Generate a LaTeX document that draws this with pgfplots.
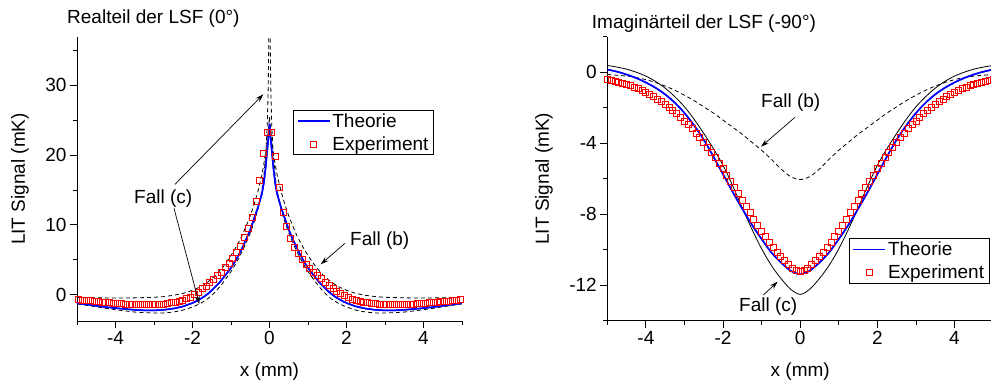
\documentclass[border=0pt]{standalone}
\usepackage{fontspec}
\setmainfont{Liberation Sans}
\usepackage{pgfplots}
\usepackage{pgfplotstable}
\pgfplotsset{compat=1.18}
\usetikzlibrary{arrows.meta}

\pgfplotstableread{
x y
-5.00 -1.25
-4.75 -1.43
-4.50 -1.62
-4.25 -1.80
-4.00 -1.95
-3.75 -2.08
-3.50 -2.20
-3.25 -2.27
-3.00 -2.28
-2.75 -2.20
-2.50 -2.02
-2.25 -1.72
-2.00 -1.22
-1.90 -0.95
-1.80 -0.65
-1.70 -0.30
-1.60 0.10
-1.50 0.60
-1.40 1.15
-1.30 1.70
-1.20 2.40
-1.10 3.10
-1.00 3.80
-0.90 4.70
-0.80 5.70
-0.70 6.80
-0.60 8.00
-0.50 9.30
-0.40 10.90
-0.30 12.50
-0.20 14.40
-0.15 15.90
-0.10 18.20
-0.05 21.20
-0.02 23.00
0.00 24.50
0.02 23.00
0.05 21.20
0.10 18.20
0.15 15.90
0.20 14.40
0.30 12.50
0.40 10.90
0.50 9.30
0.60 8.00
0.70 6.80
0.80 5.70
0.90 4.70
1.00 3.80
1.10 3.10
1.20 2.40
1.30 1.70
1.40 1.15
1.50 0.60
1.60 0.10
1.70 -0.30
1.80 -0.65
1.90 -0.95
2.00 -1.22
2.25 -1.72
2.50 -2.02
2.75 -2.20
3.00 -2.28
3.25 -2.27
3.50 -2.20
3.75 -2.08
4.00 -1.95
4.25 -1.80
4.50 -1.62
4.75 -1.43
5.00 -1.25
}\leftTheo

\pgfplotstableread{
x y
-4.95 -0.77
-4.85 -0.82
-4.75 -0.87
-4.65 -0.92
-4.55 -0.97
-4.45 -1.02
-4.35 -1.07
-4.25 -1.12
-4.15 -1.17
-4.05 -1.22
-3.95 -1.27
-3.85 -1.32
-3.75 -1.36
-3.65 -1.40
-3.55 -1.43
-3.45 -1.46
-3.35 -1.48
-3.25 -1.49
-3.15 -1.49
-3.05 -1.48
-2.95 -1.46
-2.85 -1.42
-2.75 -1.37
-2.65 -1.30
-2.55 -1.20
-2.45 -1.10
-2.35 -0.95
-2.25 -0.80
-2.15 -0.60
-2.05 -0.35
-1.95 -0.05
-1.85 0.35
-1.75 0.80
-1.65 1.20
-1.55 1.70
-1.45 2.20
-1.35 2.70
-1.25 3.20
-1.15 3.85
-1.05 4.50
-0.95 5.20
-0.85 6.00
-0.75 6.95
-0.65 8.20
-0.55 9.50
-0.45 11.10
-0.35 13.30
-0.25 16.30
-0.15 20.30
-0.05 23.20
0.05 23.20
0.15 19.80
0.25 15.30
0.35 11.80
0.45 9.70
0.55 8.00
0.65 6.80
0.75 5.90
0.85 5.00
0.95 4.30
1.05 3.70
1.15 3.15
1.25 2.70
1.35 2.25
1.45 1.75
1.55 1.25
1.65 0.85
1.75 0.45
1.85 0.10
1.95 -0.20
2.05 -0.45
2.15 -0.65
2.25 -0.85
2.35 -1.00
2.45 -1.10
2.55 -1.20
2.65 -1.28
2.75 -1.34
2.85 -1.39
2.95 -1.42
3.05 -1.44
3.15 -1.45
3.25 -1.46
3.35 -1.46
3.45 -1.45
3.55 -1.44
3.65 -1.42
3.75 -1.39
3.85 -1.35
3.95 -1.30
4.05 -1.25
4.15 -1.20
4.25 -1.15
4.35 -1.10
4.45 -1.04
4.55 -0.98
4.65 -0.93
4.75 -0.87
4.85 -0.82
4.95 -0.77
}\leftExp

\pgfplotstableread{
x y
-5.00 -1.35
-4.50 -1.76
-4.00 -2.18
-3.50 -2.52
-3.00 -2.66
-2.75 -2.64
-2.50 -2.52
-2.25 -2.25
-2.00 -1.80
-1.80 -1.30
-1.60 -0.60
-1.40 0.40
-1.20 1.75
-1.00 3.30
-0.90 4.20
-0.80 5.20
-0.70 6.30
-0.60 7.50
-0.50 8.80
-0.40 10.40
-0.30 12.20
-0.20 14.80
-0.15 16.80
-0.10 20.00
-0.08 21.80
-0.06 24.20
-0.04 28.00
-0.03 31.00
-0.02 36.00
-0.01 42.00
0.00 48.00
0.01 42.00
0.02 36.00
0.03 31.00
0.04 28.00
0.06 24.20
0.08 21.80
0.10 20.00
0.15 16.80
0.20 14.80
0.30 12.20
0.40 10.40
0.50 8.80
0.60 7.50
0.70 6.30
0.80 5.20
0.90 4.20
1.00 3.30
1.20 1.75
1.40 0.40
1.60 -0.60
1.80 -1.30
2.00 -1.80
2.25 -2.25
2.50 -2.52
2.75 -2.64
3.00 -2.66
3.50 -2.52
4.00 -2.18
4.50 -1.76
5.00 -1.35
}\leftFallC

\pgfplotstableread{
x y
-5.00 -0.43
-4.50 -0.47
-4.00 -0.50
-3.50 -0.48
-3.00 -0.40
-2.75 -0.30
-2.50 -0.12
-2.25 0.15
-2.00 0.60
-1.80 1.10
-1.60 1.80
-1.40 2.75
-1.20 4.00
-1.00 5.60
-0.90 6.50
-0.80 7.50
-0.70 8.60
-0.60 9.90
-0.50 11.30
-0.40 12.90
-0.30 14.80
-0.20 17.10
-0.15 18.60
-0.10 20.40
-0.05 22.60
-0.02 24.20
0.00 25.50
0.02 24.20
0.05 22.60
0.10 20.40
0.15 18.60
0.20 17.10
0.30 14.80
0.40 12.90
0.50 11.30
0.60 9.90
0.70 8.60
0.80 7.50
0.90 6.50
1.00 5.60
1.20 4.00
1.40 2.75
1.60 1.80
1.80 1.10
2.00 0.60
2.25 0.15
2.50 -0.12
2.75 -0.30
3.00 -0.40
3.50 -0.48
4.00 -0.50
4.50 -0.47
5.00 -0.43
}\leftFallB

\pgfplotstableread{
x y
-5.00 0.15
-4.75 0.03
-4.50 -0.13
-4.25 -0.33
-4.00 -0.58
-3.75 -0.88
-3.50 -1.25
-3.25 -1.72
-3.00 -2.30
-2.75 -3.00
-2.50 -3.80
-2.25 -4.75
-2.00 -5.75
-1.75 -6.75
-1.50 -7.70
-1.25 -8.60
-1.00 -9.40
-0.75 -10.15
-0.50 -10.72
-0.25 -11.18
0.00 -11.38
0.25 -11.18
0.50 -10.72
0.75 -10.15
1.00 -9.40
1.25 -8.60
1.50 -7.70
1.75 -6.75
2.00 -5.75
2.25 -4.75
2.50 -3.80
2.75 -3.00
3.00 -2.30
3.25 -1.72
3.50 -1.25
3.75 -0.88
4.00 -0.58
4.25 -0.33
4.50 -0.13
4.75 0.03
5.00 0.15
}\rightTheo

\pgfplotstableread{
x y
-5.0 -0.43
-4.9 -0.47
-4.8 -0.52
-4.7 -0.58
-4.6 -0.64
-4.5 -0.70
-4.4 -0.77
-4.3 -0.84
-4.2 -0.93
-4.1 -1.02
-4.0 -1.12
-3.9 -1.25
-3.8 -1.38
-3.7 -1.52
-3.6 -1.66
-3.5 -1.80
-3.4 -1.98
-3.3 -2.16
-3.2 -2.35
-3.1 -2.55
-3.0 -2.75
-2.9 -2.96
-2.8 -3.19
-2.7 -3.43
-2.6 -3.69
-2.5 -3.95
-2.4 -4.22
-2.3 -4.50
-2.2 -4.81
-2.1 -5.13
-2.0 -5.45
-1.9 -5.79
-1.8 -6.13
-1.7 -6.48
-1.6 -6.84
-1.5 -7.20
-1.4 -7.56
-1.3 -7.92
-1.2 -8.27
-1.1 -8.61
-1.0 -8.95
-0.9 -9.28
-0.8 -9.60
-0.7 -9.88
-0.6 -10.15
-0.5 -10.40
-0.4 -10.63
-0.3 -10.85
-0.2 -11.03
-0.1 -11.16
0.0 -11.20
0.1 -11.16
0.2 -11.03
0.3 -10.85
0.4 -10.63
0.5 -10.40
0.6 -10.15
0.7 -9.88
0.8 -9.60
0.9 -9.28
1.0 -8.95
1.1 -8.61
1.2 -8.27
1.3 -7.92
1.4 -7.56
1.5 -7.20
1.6 -6.84
1.7 -6.48
1.8 -6.13
1.9 -5.79
2.0 -5.45
2.1 -5.13
2.2 -4.81
2.3 -4.50
2.4 -4.22
2.5 -3.95
2.6 -3.69
2.7 -3.43
2.8 -3.19
2.9 -2.96
3.0 -2.75
3.1 -2.55
3.2 -2.35
3.3 -2.16
3.4 -1.98
3.5 -1.80
3.6 -1.66
3.7 -1.52
3.8 -1.38
3.9 -1.25
4.0 -1.12
4.1 -1.02
4.2 -0.93
4.3 -0.84
4.4 -0.77
4.5 -0.70
4.6 -0.64
4.7 -0.58
4.8 -0.52
4.9 -0.47
5.0 -0.43
}\rightExp

\pgfplotstableread{
x y
-5.00 0.38
-4.75 0.29
-4.50 0.17
-4.25 0.00
-4.00 -0.22
-3.75 -0.52
-3.50 -0.90
-3.25 -1.38
-3.00 -1.95
-2.75 -2.65
-2.50 -3.45
-2.25 -4.30
-2.00 -5.25
-1.75 -6.40
-1.50 -7.65
-1.25 -8.85
-1.00 -9.95
-0.75 -10.88
-0.50 -11.62
-0.25 -12.22
0.00 -12.52
0.25 -12.22
0.50 -11.62
0.75 -10.88
1.00 -9.95
1.25 -8.85
1.50 -7.65
1.75 -6.40
2.00 -5.25
2.25 -4.30
2.50 -3.45
2.75 -2.65
3.00 -1.95
3.25 -1.38
3.50 -0.90
3.75 -0.52
4.00 -0.22
4.25 0.00
4.50 0.17
4.75 0.29
5.00 0.38
}\rightFallC

\pgfplotstableread{
x y
-5.00 -0.13
-4.75 -0.17
-4.50 -0.22
-4.25 -0.30
-4.00 -0.42
-3.75 -0.58
-3.50 -0.78
-3.25 -1.02
-3.00 -1.30
-2.75 -1.60
-2.50 -1.95
-2.25 -2.30
-2.00 -2.70
-1.75 -3.10
-1.50 -3.50
-1.25 -3.95
-1.00 -4.40
-0.75 -4.90
-0.50 -5.45
-0.25 -5.88
0.00 -6.05
0.25 -5.88
0.50 -5.45
0.75 -4.90
1.00 -4.40
1.25 -3.95
1.50 -3.50
1.75 -3.10
2.00 -2.70
2.25 -2.30
2.50 -1.95
2.75 -1.60
3.00 -1.30
3.25 -1.02
3.50 -0.78
3.75 -0.58
4.00 -0.42
4.25 -0.30
4.50 -0.22
4.75 -0.17
5.00 -0.13
}\rightFallB

\newcommand{\bigf}{\fontsize{19}{22}\selectfont}

\pgfplotsset{
  lsf/.style={
    scale only axis, width=385pt, height=284pt,
    axis x line*=bottom, axis y line*=left,
    axis line style={line width=0.9pt, black},
    tick align=outside,
    major tick length=7pt, minor tick length=4pt,
    every tick/.style={black, line width=0.9pt},
    xmin=-5, xmax=5,
    xtick={-4,-2,0,2,4}, minor xtick={-5,-3,-1,1,3,5},
    /pgf/number format/assume math mode=true,
    tick label style={font=\bigf},
    label style={font=\bigf},
    xlabel={x (mm)}, ylabel={LIT Signal (mK)},
    xlabel style={at={(axis description cs:0.5,-0.178)}, anchor=center},
    legend style={font=\bigf, draw=black, fill=white, line width=0.8pt, anchor=north west,
      inner xsep=3pt, inner ysep=1.2pt, row sep=3.5pt, cells={anchor=west}},
  },
  theo/.style={draw=blue, color=blue, line width=1.5pt, no marks,
    legend image code/.code={\draw[blue, line width=1.6pt] (0pt,0pt) -- (32pt,0pt);}},
  expm/.style={color=red, draw=red, only marks, mark=square, mark size=3pt,
    mark options={solid, draw=red, line width=0.9pt, fill=none},
    legend image code/.code={\draw[red, line width=0.9pt] (13pt,-3pt) rectangle (19pt,3pt);}},
  fallb/.style={black, line width=0.8pt, dash pattern=on 4pt off 3pt, no marks, forget plot},
  fallcd/.style={black, line width=0.8pt, dash pattern=on 4pt off 3pt, no marks, forget plot},
  fallcs/.style={black, line width=0.8pt, no marks, forget plot},
}

\begin{document}
\begin{tikzpicture}
\useasboundingbox (0,0) rectangle (991pt,383pt);

\begin{axis}[lsf, at={(77pt,62pt)}, anchor=south west,
  ymin=-3.8, ymax=36.95,
  ytick={0,10,20,30}, minor ytick={5,15,25,35},
  ylabel style={at={(axis description cs:-0.148,0.5)}, anchor=center},
  legend style={at={(axis description cs:0.562,0.743)}},
]
\addplot[fallb] table {\leftFallB};
\addplot[fallcd] table {\leftFallC};
\addplot[theo] table {\leftTheo};
\addlegendentry{Theorie}
\addplot[expm] table {\leftExp};
\addlegendentry{Experiment}
\addplot[theo, forget plot] table {\leftTheo};
\end{axis}

\begin{axis}[lsf, at={(607.3pt,62.3pt)}, anchor=south west, width=385.8pt,
  ymin=-14, ymax=2,
  ytick={0,-4,-8,-12}, minor ytick={-14,-10,-6,-2,2},
  ylabel style={at={(axis description cs:-0.164,0.5)}, anchor=center},
  legend style={at={(axis description cs:0.6265,0.290)}},
]
\addplot[fallb, smooth] table {\rightFallB};
\addplot[fallcs, smooth] table {\rightFallC};
\addplot[theo, smooth] table {\rightTheo};
\addlegendentry{Theorie}
\addplot[expm] table {\rightExp};
\addlegendentry{Experiment}
\addplot[theo, smooth, forget plot] table {\rightTheo};
\end{axis}

\begin{scope}[x=1pt, y=1pt, font=\bigf]
\node[anchor=base west, inner sep=0pt] at (67,359) {Realteil der LSF (0°)};
\node[anchor=base west, inner sep=0pt] at (591.7,354.7) {Imaginärteil der LSF (-90°)};
\node[anchor=base west, inner sep=0pt] at (134,179.4) {Fall (c)};
\node[anchor=base west, inner sep=0pt] at (350,137.4) {Fall (b)};
\node[anchor=base west, inner sep=0pt] at (761,275.4) {Fall (b)};
\node[anchor=base west, inner sep=0pt] at (739,71.4) {Fall (c)};
\draw[line width=0.7pt, -{Stealth[length=8pt,width=5pt]}] (175,198.7) -- (263.3,288.7);
\draw[line width=0.7pt, -{Stealth[length=8pt,width=5pt]}] (174,174.7) -- (199.3,79);
\draw[line width=0.7pt, -{Stealth[length=8pt,width=5pt]}] (345,139.7) -- (320.7,118.7);
\draw[line width=0.7pt, -{Stealth[length=8pt,width=5pt]}] (795,265.7) -- (761,236.3);
\draw[line width=0.7pt, -{Stealth[length=8pt,width=5pt]}] (763.3,88) -- (777.7,101.3);
\end{scope}
\end{tikzpicture}
\end{document}
